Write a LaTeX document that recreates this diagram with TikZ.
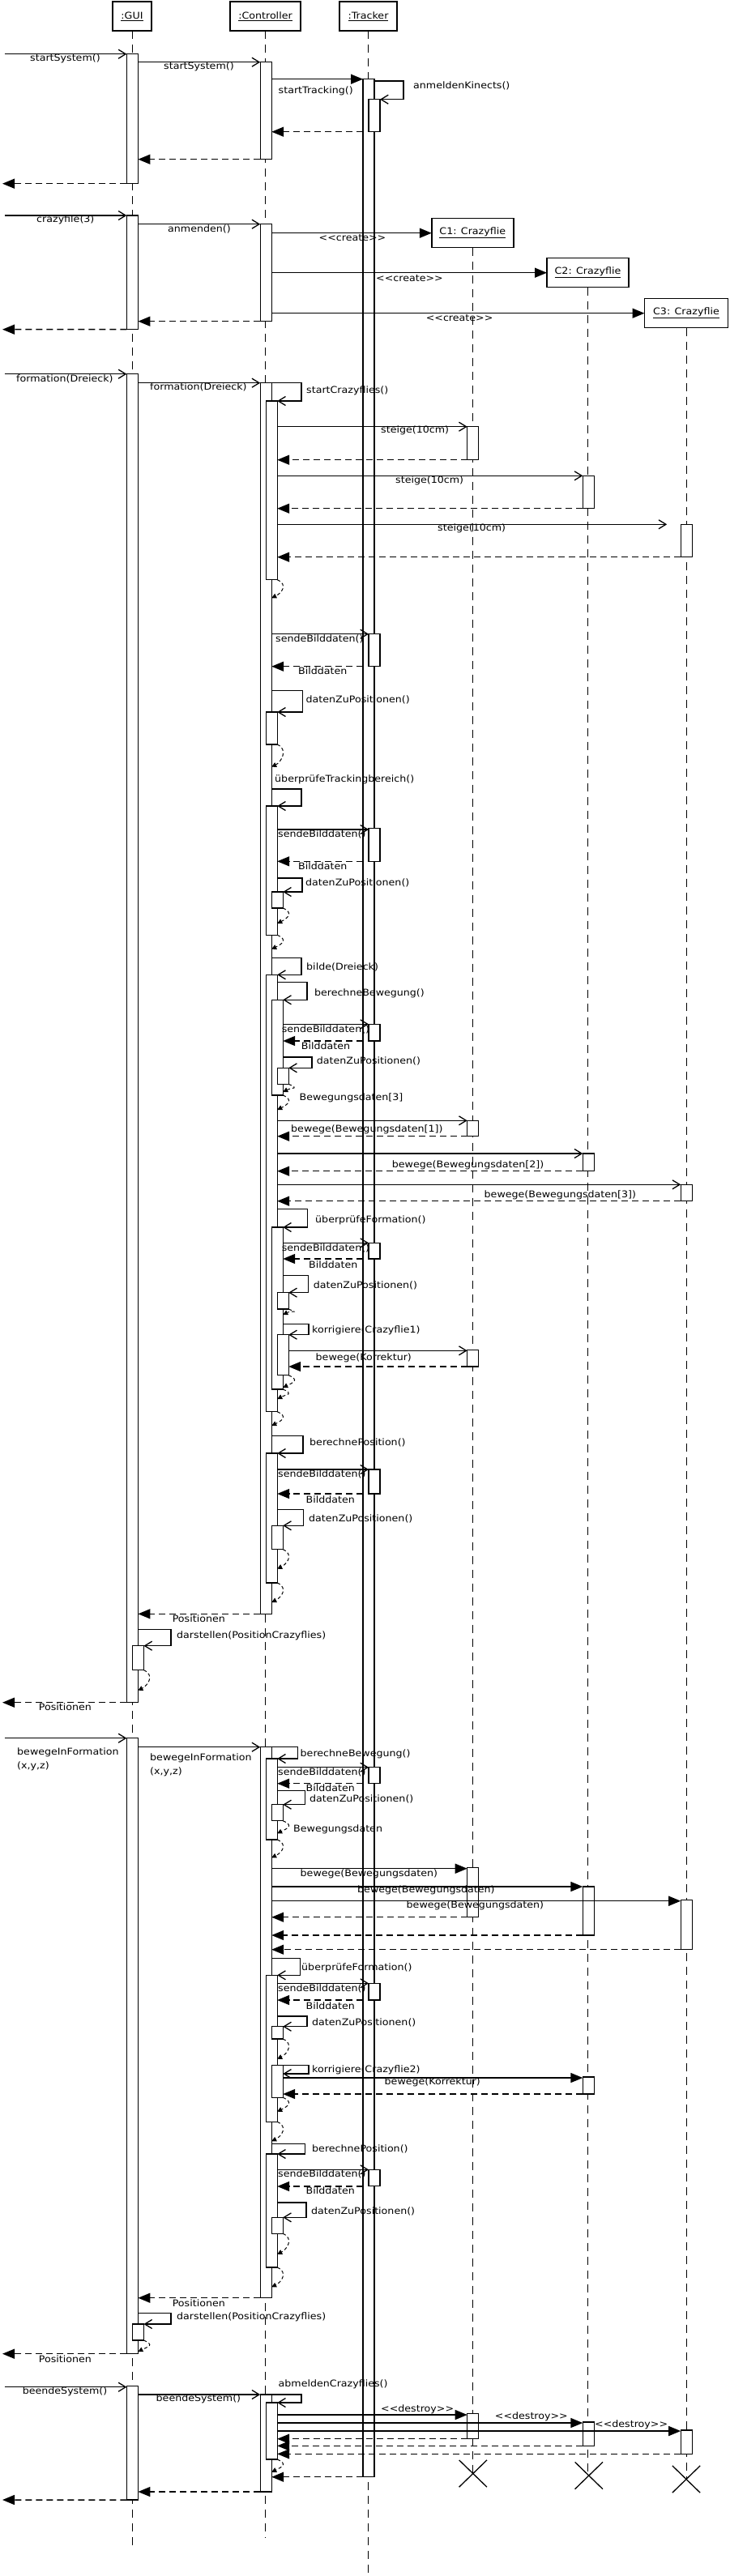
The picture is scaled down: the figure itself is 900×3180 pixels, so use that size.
\documentclass[tikz,border=0pt]{standalone}
\usepackage{fontspec}
\setmainfont[FakeStretch=1.1]{DejaVu Sans}
\usepackage{tikz}
\usetikzlibrary{arrows.meta,shapes.misc}

\newcommand{\actbox}[4]{\node[act, minimum height=#4-#3] (#1) at (#2,#3) {};}
\newcommand{\msg}[4]{\draw[#1] (#2 |- 0,#4) -- (#3 |- 0,#4);}
\newcommand{\selfcall}[4]{\draw[call] (#1 |- 0,#2) -| (#3,0 |- #4) -- (#4);}
\newcommand{\backret}[3]{\draw[back] (#1) .. controls +(14,6) and +(12,-6) .. (#2 |- 0,#3);}
\newcommand{\stereo}[1]{<\kern0pt<#1>\kern0pt>}

\begin{document}
\begin{tikzpicture}[x=1pt, y=-1pt,
    every node/.style={font=\fontsize{11.5}{16.5}\selectfont},
    obj/.style={draw, line width=1.4pt, inner sep=2pt, outer sep=0pt, minimum height=36pt},
    act/.style={draw, fill=white, line width=1.2pt, minimum width=14pt, inner sep=0pt, outer sep=0pt, anchor=north},
    life/.style={line width=0.8pt, dash pattern=on 10pt off 7pt},
    call/.style={line width=1.5pt, -{Straight Barb[length=9pt,width=11pt,line width=1.3pt]}},
    sync/.style={line width=1.5pt, -{Triangle[length=15pt,width=12pt]}},
    ret/.style={line width=1.5pt, dash pattern=on 8pt off 5pt, -{Triangle[length=15pt,width=12pt]}},
    back/.style={line width=1pt, dash pattern=on 4pt off 3pt, -{Triangle[length=6pt,width=6pt]}},
    lab/.style={inner sep=0pt, anchor=west},
    kill/.style={draw, cross out, line width=1.3pt, inner sep=0pt, minimum width=33pt, minimum height=32pt}]
    \useasboundingbox (0,0) rectangle (900,3180);

    \node (gui) [obj, minimum width=48pt] at (163,20) {\underline{:GUI}};
    \node (ctrl) [obj, minimum width=87pt] at (327.5,20) {\underline{:Controller}};
    \node (trk) [obj, minimum width=71pt] at (454.5,20) {\underline{:Tracker}};
    \node (cf1) [obj, minimum width=101pt] at (583.3,287.7) {\underline{C1: Crazyflie}};
    \node (cf2) [obj, minimum width=101pt] at (725.5,336.7) {\underline{C2: Crazyflie}};
    \node (cf3) [obj, minimum width=103pt] at (847,386.7) {\underline{C3: Crazyflie}};

    \foreach \o/\e in {gui/3142, ctrl/3133, trk/3178, cf1/3053, cf2/3056, cf3/3060}
        \draw[life] (\o.south) -- (\o.south |- 0,\e);

    \node (x1) [kill] at (583.8,3053.5) {};
    \node (x2) [kill] at (726.8,3056) {};
    \node (x3) [kill] at (847,3060.5) {};

    % activations
    \actbox{gui1}{163.4}{66.7}{226.7}
    \actbox{gui2}{163.4}{266}{406.7}
    \actbox{gui3}{163.4}{461.7}{2101.7}
    \actbox{gui3a}{170.4}{2031.7}{2061.7}
    \actbox{gui4}{163.4}{2145.7}{2905.7}
    \actbox{gui4a}{170.4}{2869}{2889}
    \actbox{gui5}{163.4}{2945.7}{3086}

    \actbox{ctrl1}{328.2}{76.7}{196.7}
    \actbox{ctrl2}{328.2}{276.7}{396.7}
    \actbox{ctrl3}{328.2}{472.7}{1992.3}
    \actbox{ctrl3a}{335.2}{495}{715.7}
    \actbox{ctrl3b}{335.2}{879}{919}
    \actbox{ctrl3c}{335.2}{995}{1154.3}
    \actbox{ctrl3d}{342.2}{1101}{1121}
    \actbox{ctrl3e}{335.2}{1203.3}{1742.7}
    \actbox{ctrl3f}{342.2}{1234.3}{1352}
    \actbox{ctrl3g}{349.2}{1318.3}{1338.3}
    \actbox{ctrl3h}{342.2}{1515}{1715}
    \actbox{ctrl3i}{349.2}{1595.7}{1616}
    \actbox{ctrl3j}{349.2}{1647.7}{1697.7}
    \actbox{ctrl3k}{335.2}{1794}{1954}
    \actbox{ctrl3l}{342.2}{1883.3}{1912.7}
    \actbox{ctrl4}{328.2}{2156.7}{2836.7}
    \actbox{ctrl4a}{335.2}{2171}{2271}
    \actbox{ctrl4b}{342.2}{2227.7}{2247.7}
    \actbox{ctrl4c}{335.2}{2438.3}{2619.3}
    \actbox{ctrl4d}{342.2}{2501.7}{2517}
    \actbox{ctrl4e}{342.2}{2549.3}{2589.3}
    \actbox{ctrl4f}{335.2}{2659}{2799}
    \actbox{ctrl4g}{342.2}{2737.3}{2757.3}
    \actbox{ctrl5}{328.2}{2956}{3076}
    \actbox{ctrl5a}{335.2}{2966}{3036}

    \actbox{trk1}{455}{97.7}{3057.7}
    \actbox{trk1a}{462}{122.7}{162.7}
    \actbox{trk1b}{462}{782.7}{822.7}
    \actbox{trk1c}{462}{1022.7}{1063.3}
    \actbox{trk1d}{462}{1264.3}{1285}
    \actbox{trk1e}{462}{1534.3}{1554}
    \actbox{trk1f}{462}{1814}{1844}
    \actbox{trk1g}{462}{2181.7}{2201.7}
    \actbox{trk1h}{462}{2448.3}{2469}
    \actbox{trk1i}{462}{2678.3}{2698.3}

    \actbox{cfa1}{583.7}{526.7}{567.7}
    \actbox{cfa2}{583.7}{1383.3}{1402.7}
    \actbox{cfa3}{583.7}{1666.7}{1687}
    \actbox{cfa4}{583.7}{2305.7}{2366.7}
    \actbox{cfa5}{583.7}{2979.3}{3010.7}
    \actbox{cfb1}{726.3}{587.3}{627.7}
    \actbox{cfb2}{726.3}{1424}{1445.7}
    \actbox{cfb3}{726.3}{2329}{2389}
    \actbox{cfb4}{726.3}{2564}{2585}
    \actbox{cfb5}{726.3}{2990}{3019.3}
    \actbox{cfc1}{847.2}{647.3}{687.7}
    \actbox{cfc2}{847.2}{1462.3}{1482.7}
    \actbox{cfc3}{847.2}{2345.7}{2406.7}
    \actbox{cfc4}{847.2}{3000}{3029.3}

    \coordinate (in1) at (5.7,66.7);
    \coordinate (in2) at (5.7,266);
    \coordinate (in3) at (5.7,461.7);
    \coordinate (in4) at (5.7,2145.7);
    \coordinate (in5) at (5.7,2946.7);
    \coordinate (out1) at (3,226.7);
    \coordinate (out2) at (3,406.7);
    \coordinate (out3) at (3,2101.7);
    \coordinate (out4) at (3,2905.7);
    \coordinate (out5) at (3,3086);

    % startSystem
    \draw[call] (in1) -- (gui1.west |- in1);
    \node (l1) [lab] at (37,72.7) {startSystem()};
    \msg{call}{gui1.east}{ctrl1.west}{76.7}
    \node (l2) [lab] at (202,82.7) {startSystem()};
    \msg{sync}{ctrl1.east}{trk1.west}{97.7}
    \node (l3) [lab] at (343.5,112.7) {startTracking()};
    \selfcall{trk1.east}{100}{498}{trk1a.north east}
    \node (l4) [lab] at (510,106) {anmeldenKinects()};
    \msg{ret}{trk1.west}{ctrl1.east}{162.7}
    \msg{ret}{ctrl1.west}{gui1.east}{196.7}
    \draw[ret] (gui1.south west) -- (out1);

    % crazyfile
    \draw[call] (in2) -- (gui2.west |- in2);
    \node (l5) [lab] at (45,271.7) {crazyfile(3)};
    \msg{call}{gui2.east}{ctrl2.west}{276.7}
    \node (l6) [lab] at (207,282.7) {anmenden()};
    \msg{sync}{ctrl2.east}{cf1.west}{287.7}
    \node (l7) [lab] at (393.5,293.3) {\stereo{create}};
    \msg{sync}{ctrl2.east}{cf2.west}{336.7}
    \node (l8) [lab] at (464,343.3) {\stereo{create}};
    \msg{sync}{ctrl2.east}{cf3.west}{386.7}
    \node (l9) [lab] at (525.6,392.7) {\stereo{create}};
    \msg{ret}{ctrl2.west}{gui2.east}{396.7}
    \draw[ret] (gui2.south west) -- (out2);

    % formation
    \draw[call] (in3) -- (gui3.west |- in3);
    \node (l10) [lab] at (20,467.7) {formation(Dreieck)};
    \msg{call}{gui3.east}{ctrl3.west}{472.7}
    \node (l11) [lab] at (185,478.3) {formation(Dreieck)};
    \selfcall{ctrl3.east}{472.7}{372}{ctrl3a.north east}
    \node (l12) [lab] at (378,482.3) {startCrazyflies()};
    \msg{call}{ctrl3a.east}{cfa1.west}{526.7}
    \node (l13) [lab] at (470,531.7) {steige(10cm)};
    \msg{ret}{cfa1.west}{ctrl3a.east}{567.7}
    \msg{call}{ctrl3a.east}{cfb1.west}{587.3}
    \node (l14) [lab] at (488,593.3) {steige(10cm)};
    \msg{ret}{cfb1.west}{ctrl3a.east}{627.7}
    \draw[call, shorten >=17pt] (ctrl3a.east |- cfc1.north) -- (cfc1.north west);
    \node (l15) [lab] at (540,652.7) {steige(10cm)};
    \msg{ret}{cfc1.west}{ctrl3a.east}{687.7}
    \backret{ctrl3a.south east}{ctrl3.east}{738.3}

    \msg{call}{ctrl3.east}{trk1b.west}{782.7}
    \node (l16) [lab] at (340,789) {sendeBilddaten()};
    \msg{ret}{trk1.west}{ctrl3.east}{822.7}
    \node (l17) [lab] at (368,828.3) {Bilddaten};
    \selfcall{ctrl3.east}{852.7}{373.4}{ctrl3b.north east}
    \node (l18) [lab] at (377.4,864) {datenZuPositionen()};
    \backret{ctrl3b.south east}{ctrl3.east}{946.7}

    \node (l19) [lab] at (339,962.7) {überprüfeTrackingbereich()};
    \selfcall{ctrl3.east}{974}{372}{ctrl3c.north east}
    \msg{call}{ctrl3c.east}{trk1c.west}{1024}
    \node (l20) [lab] at (343,1030) {sendeBilddaten()};
    \msg{ret}{trk1.west}{ctrl3c.east}{1063.3}
    \node (l21) [lab] at (368,1069.3) {Bilddaten};
    \selfcall{ctrl3c.east}{1084}{373}{ctrl3d.north east}
    \node (l22) [lab] at (377,1090) {datenZuPositionen()};
    \backret{ctrl3d.south east}{ctrl3c.east}{1140}
    \backret{ctrl3c.south east}{ctrl3.east}{1171.7}

    \selfcall{ctrl3.east}{1182.7}{372}{ctrl3e.north east}
    \node (l23) [lab] at (378,1194) {bilde(Dreieck)};
    \selfcall{ctrl3e.east}{1212.7}{379}{ctrl3f.north east}
    \node (l24) [lab] at (387.8,1226.7) {berechneBewegung()};
    \msg{call}{ctrl3f.east}{trk1d.west}{1264.3}
    \node (l25) [lab] at (347.6,1270.7) {sendeBilddaten()};
    \msg{ret}{trk1.west}{ctrl3f.east}{1285}
    \node (l26) [lab] at (371.7,1290.7) {Bilddaten};
    \selfcall{ctrl3f.east}{1305}{385}{ctrl3g.north east}
    \node (l27) [lab] at (390.7,1310) {datenZuPositionen()};
    \backret{ctrl3g.south east}{ctrl3f.east}{1348}
    \backret{ctrl3f.south east}{ctrl3e.east}{1370}
    \node (l28) [lab] at (369.4,1355) {Bewegungsdaten[3]};
    \msg{call}{ctrl3e.east}{cfa2.west}{1383.3}
    \node (l29) [lab] at (359,1394) {bewege(Bewegungsdaten[1])};
    \msg{ret}{cfa2.west}{ctrl3e.east}{1402.7}
    \msg{call}{ctrl3e.east}{cfb2.west}{1424}
    \node (l30) [lab] at (483.7,1438.3) {bewege(Bewegungsdaten[2])};
    \msg{ret}{cfb2.west}{ctrl3e.east}{1445.7}
    \msg{call}{ctrl3e.east}{cfc2.west}{1462.3}
    \node (l31) [lab] at (597.5,1475.7) {bewege(Bewegungsdaten[3])};
    \msg{ret}{cfc2.west}{ctrl3e.east}{1482.7}

    \selfcall{ctrl3e.east}{1492.7}{379.7}{ctrl3h.north east}
    \node (l32) [lab] at (389,1506.7) {überprüfeFormation()};
    \msg{call}{ctrl3h.east}{trk1e.west}{1534.3}
    \node (l33) [lab] at (347.6,1541) {sendeBilddaten()};
    \msg{ret}{trk1.west}{ctrl3h.east}{1554}
    \node (l34) [lab] at (381,1560.7) {Bilddaten};
    \selfcall{ctrl3h.east}{1574.3}{380.3}{ctrl3i.north east}
    \node (l35) [lab] at (386.6,1586.7) {datenZuPositionen()};
    \backret{ctrl3i.south east}{ctrl3h.east}{1623}
    \selfcall{ctrl3h.east}{1634.3}{381}{ctrl3j.north east}
    \node (l36) [lab] at (385,1642.7) {korrigiere(Crazyflie1)};
    \msg{call}{ctrl3j.east}{cfa3.west}{1667.3}
    \node (l37) [lab] at (389.5,1676.7) {bewege(Korrektur)};
    \msg{ret}{cfa3.west}{ctrl3j.east}{1687}
    \backret{ctrl3j.south east}{ctrl3h.east}{1713}
    \backret{ctrl3h.south east}{ctrl3e.east}{1727}
    \backret{ctrl3e.south east}{ctrl3.east}{1760}

    \selfcall{ctrl3.east}{1772.7}{374}{ctrl3k.north east}
    \node (l38) [lab] at (382,1780.7) {berechnePosition()};
    \msg{call}{ctrl3k.east}{trk1f.west}{1814}
    \node (l39) [lab] at (343,1820) {sendeBilddaten()};
    \msg{ret}{trk1.west}{ctrl3k.east}{1844}
    \node (l40) [lab] at (377.4,1850.7) {Bilddaten};
    \selfcall{ctrl3k.east}{1863.3}{374.6}{ctrl3l.north east}
    \node (l41) [lab] at (381,1875) {datenZuPositionen()};
    \backret{ctrl3l.south east}{ctrl3k.east}{1936.7}
    \backret{ctrl3k.south east}{ctrl3.east}{1978}
    \msg{ret}{ctrl3.west}{gui3.east}{1992.3}
    \node (l42) [lab] at (212.6,1998.3) {Positionen};
    \selfcall{gui3.east}{2011.7}{210.8}{gui3a.north east}
    \node (l43) [lab] at (218,2019) {darstellen(PositionCrazyflies)};
    \backret{gui3a.south east}{gui3.east}{2086.7}
    \draw[ret] (gui3.south west) -- (out3);
    \node (l44) [lab] at (47.7,2107.3) {Positionen};

    % bewegeInFormation
    \draw[call] (in4) -- (gui4.west |- in4);
    \node (l45) [lab, align=left] at (21,2171.7) {bewegeInFormation\\(x,y,z)};
    \msg{call}{gui4.east}{ctrl4.west}{2156.7}
    \node (l46) [lab, align=left] at (185,2179) {bewegeInFormation\\(x,y,z)};
    \selfcall{ctrl4.east}{2156.7}{367.7}{ctrl4a.north east}
    \node (l47) [lab] at (370.5,2165) {berechneBewegung()};
    \msg{call}{ctrl4a.east}{trk1g.west}{2181.7}
    \node (l48) [lab] at (343,2187.7) {sendeBilddaten()};
    \msg{ret}{trk1.west}{ctrl4a.east}{2201.7}
    \node (l49) [lab] at (377.4,2207.3) {Bilddaten};
    \selfcall{ctrl4a.east}{2210.7}{376.3}{ctrl4b.north east}
    \node (l50) [lab] at (382,2220.7) {datenZuPositionen()};
    \backret{ctrl4b.south east}{ctrl4a.east}{2263.3}
    \node (l51) [lab] at (362,2258.3) {Bewegungsdaten};
    \backret{ctrl4a.south east}{ctrl4.east}{2293.3}
    \msg{sync}{ctrl4.east}{cfa4.west}{2306.7}
    \node (l52) [lab] at (370.5,2313.3) {bewege(Bewegungsdaten)};
    \msg{sync}{ctrl4.east}{cfb3.west}{2329}
    \node (l53) [lab] at (441,2333.3) {bewege(Bewegungsdaten)};
    \msg{sync}{ctrl4.east}{cfc3.west}{2346.7}
    \node (l54) [lab] at (501.5,2352.7) {bewege(Bewegungsdaten)};
    \msg{ret}{cfa4.west}{ctrl4.east}{2366.7}
    \msg{ret}{cfb3.west}{ctrl4.east}{2389}
    \msg{ret}{cfc3.west}{ctrl4.east}{2406.7}

    \selfcall{ctrl4.east}{2417.3}{370.5}{ctrl4c.north east}
    \node (l55) [lab] at (372,2429.3) {überprüfeFormation()};
    \msg{call}{ctrl4c.east}{trk1h.west}{2448.3}
    \node (l56) [lab] at (343,2455) {sendeBilddaten()};
    \msg{ret}{trk1.west}{ctrl4c.east}{2469}
    \node (l57) [lab] at (377.4,2475.7) {Bilddaten};
    \selfcall{ctrl4c.east}{2489}{379}{ctrl4d.north east}
    \node (l58) [lab] at (385,2496.7) {datenZuPositionen()};
    \backret{ctrl4d.south east}{ctrl4c.east}{2541.7}
    \draw[call] (ctrl4e.north east) -| (381,2560) -- (ctrl4e.east |- 0,2560);
    \node (l59) [lab] at (385,2555.7) {korrigiere(Crazyflie2)};
    \msg{sync}{ctrl4e.east}{cfb4.west}{2565}
    \node (l60) [lab] at (474.5,2570.7) {bewege(Korrektur)};
    \msg{ret}{cfb4.west}{ctrl4e.east}{2585}
    \backret{ctrl4e.south east}{ctrl4c.east}{2606.7}
    \backret{ctrl4c.south east}{ctrl4.east}{2643.3}

    \selfcall{ctrl4.east}{2646.7}{376.3}{ctrl4f.north east}
    \node (l61) [lab] at (385,2653) {berechnePosition()};
    \msg{call}{ctrl4f.east}{trk1i.west}{2678.3}
    \node (l62) [lab] at (343,2684.3) {sendeBilddaten()};
    \msg{ret}{trk1.west}{ctrl4f.east}{2699}
    \node (l63) [lab] at (377.4,2704.3) {Bilddaten};
    \selfcall{ctrl4f.east}{2719}{378}{ctrl4g.north east}
    \node (l64) [lab] at (383.8,2730) {datenZuPositionen()};
    \backret{ctrl4g.south east}{ctrl4f.east}{2782.7}
    \backret{ctrl4f.south east}{ctrl4.east}{2823.3}
    \msg{ret}{ctrl4.west}{gui4.east}{2836.7}
    \node (l65) [lab] at (212.6,2842.7) {Positionen};
    \selfcall{gui4.east}{2855.7}{210.8}{gui4a.north east}
    \node (l66) [lab] at (218,2860) {darstellen(PositionCrazyflies)};
    \backret{gui4a.south east}{gui4.east}{2903}
    \draw[ret] (gui4.south west) -- (out4);
    \node (l67) [lab] at (47.7,2911.7) {Positionen};

    % beendeSystem
    \draw[call] (in5) -- (gui5.west |- in5);
    \node (l68) [lab] at (27.6,2952.7) {beendeSystem()};
    \msg{call}{gui5.east}{ctrl5.west}{2956}
    \node (l69) [lab] at (192.5,2961.7) {beendeSystem()};
    \selfcall{ctrl5.east}{2956}{372}{ctrl5a.north east}
    \node (l70) [lab] at (343.5,2943.3) {abmeldenCrazyflies()};
    \msg{sync}{ctrl5a.east}{cfa5.west}{2981}
    \node (l71) [lab] at (470,2974) {\stereo{destroy}};
    \msg{sync}{ctrl5a.east}{cfb5.west}{2991}
    \node (l72) [lab] at (610.7,2983.3) {\stereo{destroy}};
    \msg{sync}{ctrl5a.east}{cfc4.west}{3001}
    \node (l73) [lab] at (734,2993.3) {\stereo{destroy}};
    \msg{ret}{cfa5.west}{ctrl5a.east}{3010.7}
    \msg{ret}{cfb5.west}{ctrl5a.east}{3019.3}
    \msg{ret}{cfc4.west}{ctrl5a.east}{3029.3}
    \backret{ctrl5a.south east}{ctrl5.east}{3051.7}
    \msg{ret}{trk1.west}{ctrl5.east}{3057.7}
    \msg{ret}{ctrl5.west}{gui5.east}{3076}
    \draw[ret] (gui5.south west) -- (out5);
\end{tikzpicture}
\end{document}
